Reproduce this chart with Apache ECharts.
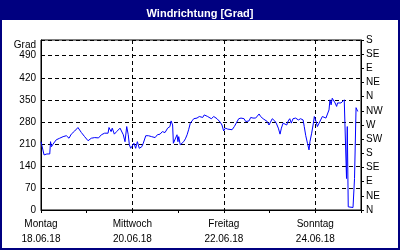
<!DOCTYPE html>
<html><head><meta charset="utf-8">
<script src="https://cdn.jsdelivr.net/npm/echarts@6/dist/echarts.min.js"></script>
<style>html,body{margin:0;padding:0;background:#fff}#c{width:400px;height:250px}</style>
</head><body><div id="c"></div>
<script>
const title = 'Windrichtung [Grad]';
const yName = 'Grad';
const dayNames = ['Montag', 'Mittwoch', 'Freitag', 'Sonntag'];
const dates = ['18.06.18', '20.06.18', '22.06.18', '24.06.18'];
const compass = ['N','NE','E','SE','S','SW','W','NW','N','NE','E','SE','S'];
// hours since 18.06.18 00:00
const hours = [0,1.6,3.1,4.6,5.0,5.5,6.3,8.0,9.8,11.6,13.3,14.7,15.9,17.7,19.4,21.2,22.9,24.7,26.4,28.2,29.0,30.2,31.7,33.4,34.3,35.2,35.7,36.8,37.4,38.5,39.7,41.5,42.4,43.2,44.1,45.0,45.8,46.4,47.1,47.9,48.8,49.7,50.6,51.6,52.9,53.7,55.0,56.4,58.1,59.9,61.1,62.5,63.7,65.1,66.5,67.7,68.3,69.1,69.5,69.7,70.5,71.4,71.9,72.3,73.1,74.0,74.9,75.8,76.7,77.5,78.4,79.3,80.2,81.9,83.1,84.9,85.7,86.6,87.5,88.4,89.4,90.7,91.5,92.4,93.3,94.1,95.0,95.9,96.8,98.0,100.3,101.5,102.5,103.8,105.0,105.7,106.6,107.5,108.3,109.2,110.1,111.3,112.7,113.6,114.5,115.3,116.6,117.6,118.8,119.7,120.6,121.4,122.7,123.5,124.6,125.5,126.2,127.1,128.1,129.0,129.8,130.6,131.4,132.3,133.7,135.1,136.3,137.6,138.2,139.0,139.9,140.7,141.2,142.1,143.0,143.5,144.4,145.1,146.0,146.8,147.7,148.6,149.6,150.3,151.2,151.7,152.3,152.9,153.8,154.4,155.2,155.7,156.6,157.5,158.4,159.2,160.1,160.4,160.8,161.3,162.2,163.8,164.6,165.4,166.3];
const degrees = [217,175,178,178,217,201,209,223,228,233,236,228,241,251,262,246,233,220,228,230,233,229,239,244,239,244,262,249,260,241,249,260,265,239,217,265,239,207,196,194,212,196,217,196,201,212,236,236,233,230,239,241,249,246,260,265,283,270,212,209,217,239,217,233,207,201,217,226,239,255,276,283,290,292,297,294,302,308,297,302,290,297,302,290,292,279,270,251,260,257,255,265,276,290,292,286,290,281,286,283,294,292,292,297,305,297,290,290,281,270,276,290,283,276,260,241,260,276,279,270,283,290,276,290,292,286,290,286,265,236,212,191,217,244,276,297,281,265,276,281,297,292,292,297,318,350,334,355,361,340,329,340,334,340,334,350,350,100,265,10,8,8,100,325,313];

const data = hours.map((h, i) => [h, degrees[i]]);
const font = 'Liberation Sans';
const chart = echarts.init(document.getElementById('c'), null, {renderer: 'canvas'});
chart.setOption({
  backgroundColor: '#000080',
  animation: false,
  title: {text: title, left: 'center', top: 3, textStyle: {color: '#fff', fontFamily: font, fontSize: 11, fontWeight: 'bold'}},
  graphic: [{type: 'rect', z: -10, shape: {x: 2, y: 20, width: 396, height: 228}, style: {fill: '#fff'}}],
  grid: {left: 41, right: 39, top: 40, bottom: 40, show: true, borderColor: '#000', borderWidth: 1, backgroundColor: 'transparent'},
  xAxis: {
    type: 'value', min: 0, max: 168, interval: 48,
    axisLine: {lineStyle: {color: '#000'}},
    axisTick: {show: true, length: 3, lineStyle: {color: '#000'}},
    minorTick: {show: true, splitNumber: 2, length: 3, lineStyle: {color: '#000'}},
    splitLine: {show: true, lineStyle: {color: '#000', type: [4, 3]}},
    axisLabel: {
      margin: 7, color: '#000', fontFamily: font, fontSize: 10, lineHeight: 15,
      showMaxLabel: false,
      formatter: v => { const i = Math.round(v / 48); return (v % 48 === 0 && i < dayNames.length) ? dayNames[i] + '\n' + dates[i] : ''; }
    }
  },
  yAxis: [{
    type: 'value', min: 0, max: 540, interval: 70, position: 'left',
    name: yName, nameLocation: 'end', nameGap: -5,
    nameTextStyle: {color: '#000', fontFamily: font, fontSize: 10, align: 'right', verticalAlign: 'middle', padding: [0, 5, 0, 0]},
    axisLine: {show: true, lineStyle: {color: '#000'}},
    axisTick: {show: false},
    splitLine: {show: true, lineStyle: {color: '#000', type: [4, 3]}},
    axisLabel: {margin: 5, color: '#000', fontFamily: font, fontSize: 10, showMaxLabel: false,
      formatter: v => v >= 540 ? '' : String(v)}
  }, {
    type: 'value', min: 0, max: 540, interval: 45, position: 'right',
    axisLine: {show: true, lineStyle: {color: '#000'}},
    axisTick: {show: true, length: 3, lineStyle: {color: '#000'}},
    splitLine: {show: false},
    axisLabel: {margin: 5, color: '#000', fontFamily: font, fontSize: 10,
      formatter: v => compass[Math.round(v / 45)] || ''}
  }],
  series: [{
    type: 'line', data: data, yAxisIndex: 0, showSymbol: false, symbol: 'none',
    lineStyle: {color: '#0000ff', width: 1}, z: 5
  }]
});
</script></body></html>
